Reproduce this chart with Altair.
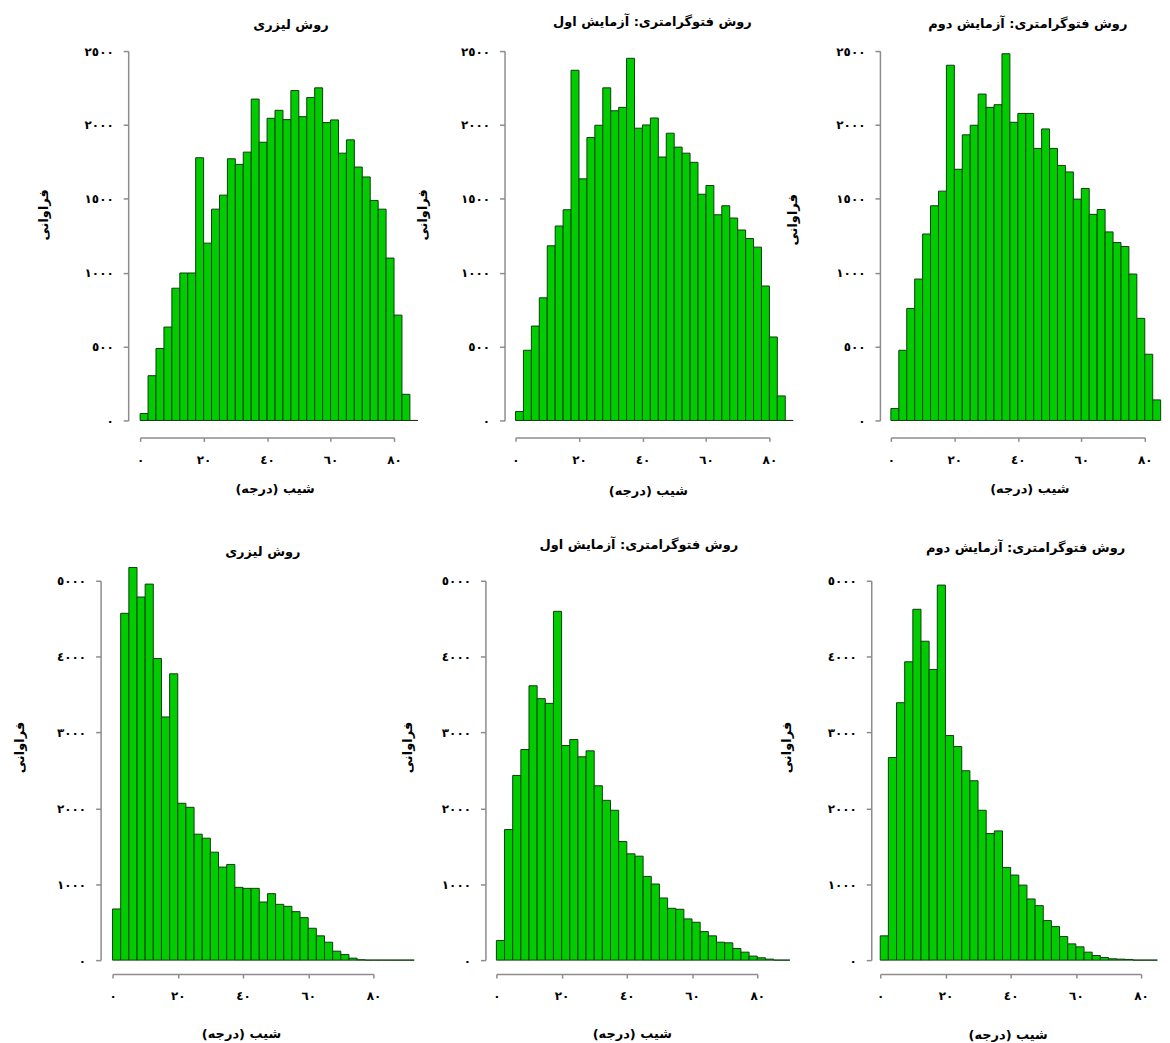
import altair as alt
import pandas as pd

# ---------------- data ----------------
BIN_WIDTH = 2.5

X_TICKS = [0, 20, 40, 60, 80]
X_TICK_LABELS = ["٠", "٢٠", "٤٠", "٦٠", "٨٠"]
Y_TICKS_TOP = [0, 500, 1000, 1500, 2000, 2500]
Y_TICK_LABELS_TOP = ["٠", "٥٠٠", "١٠٠٠", "١٥٠٠", "٢٠٠٠", "٢٥٠٠"]
Y_TICKS_BOTTOM = [0, 1000, 2000, 3000, 4000, 5000]
Y_TICK_LABELS_BOTTOM = ["٠", "١٠٠٠", "٢٠٠٠", "٣٠٠٠", "٤٠٠٠", "٥٠٠٠"]

TITLE_LASER = "روش لیزری"
TITLE_PHOTO_1 = "روش فتوگرامتری: آزمایش اول"
TITLE_PHOTO_2 = "روش فتوگرامتری: آزمایش دوم"
X_TITLE = "شیب (درجه)"
Y_TITLE = "فراوانی"

# counts per 2.5-degree bin, starting at 0 degrees
counts_top_laser = [47, 303, 487, 632, 895, 998, 998, 1778, 1200, 1430, 1525, 1771,
                    1733, 1816, 2175, 1883, 2045, 2099, 2036, 2233, 2056, 2186, 2251,
                    2016, 2034, 1809, 1899, 1715, 1648, 1489, 1430, 1099, 713, 177, 0]
counts_top_photo1 = [61, 475, 639, 830, 1182, 1316, 1426, 2370, 1635, 1915, 1998, 2251,
                     2096, 2119, 2451, 1978, 2000, 2047, 1783, 1944, 1850, 1809, 1747,
                     1531, 1590, 1392, 1453, 1370, 1289, 1231, 1173, 910, 565, 166, 0]
counts_top_photo2 = [81, 475, 758, 957, 1262, 1453, 1552, 2404, 1700, 1933, 1998, 2209,
                     2119, 2137, 2482, 2018, 2078, 2078, 1841, 1973, 1841, 1726, 1682,
                     1498, 1570, 1395, 1428, 1276, 1204, 1177, 991, 691, 448, 139]
counts_bottom_laser = [674, 4571, 5175, 4786, 4956, 3975, 3205, 3774, 2067, 2014, 1660,
                       1607, 1423, 1226, 1261, 959, 946, 946, 766, 876, 735, 709, 639,
                       560, 420, 320, 236, 118, 74, 26, 5, 0, 0, 0, 0, 0, 0]
counts_bottom_photo1 = [258, 1721, 2434, 2776, 3616, 3446, 3384, 4597, 2828, 2907, 2680,
                        2758, 2298, 2106, 1975, 1563, 1401, 1370, 1103, 1003, 819, 683,
                        670, 543, 499, 376, 320, 236, 228, 153, 105, 53, 31, 13, 0, 0]
counts_bottom_photo2 = [320, 2671, 3393, 3932, 4624, 4203, 3831, 4943, 2960, 2815, 2496,
                        2364, 1975, 1668, 1703, 1222, 1121, 989, 806, 718, 521, 442, 311,
                        214, 175, 105, 61, 35, 18, 13, 9, 0, 0, 0]

# ---------------- style ----------------
FONT = "DejaVu Sans"
FILL = "#00cc00"
EDGE = "#0d3d0d"
AXIS_GRAY = "#8c8c8c"


def label_expr(values, labels):
    expr = "".join(f"datum.value == {v} ? '{l}' : " for v, l in zip(values, labels))
    return expr + "''"


def panel(counts, title, yticks, ylabels, width, height, yoff, xoff,
          ytx, yty, xtx, xty, tdx, toff, xlabpad):
    df = pd.DataFrame({
        "start": [i * BIN_WIDTH for i in range(len(counts))],
        "end": [(i + 1) * BIN_WIDTH for i in range(len(counts))],
        "count": counts,
    })
    return alt.Chart(df, title=alt.TitleParams(
        title, font=FONT, fontSize=13, fontWeight="bold", color="black",
        anchor="middle", frame="group", dx=tdx, offset=toff, baseline="middle",
    )).mark_rect(fill=FILL, stroke=EDGE, strokeWidth=1, opacity=1).encode(
        x=alt.X("start:Q",
                scale=alt.Scale(domain=[X_TICKS[0], X_TICKS[-1]], nice=False, zero=False),
                axis=alt.Axis(values=X_TICKS, labelExpr=label_expr(X_TICKS, X_TICK_LABELS),
                              title=X_TITLE, offset=xoff, grid=False, tickSize=4,
                              domainColor=AXIS_GRAY, tickColor=AXIS_GRAY,
                              domainWidth=1.5, tickWidth=1.5,
                              labelFont=FONT, labelFontSize=12, labelFontWeight="bold",
                              labelColor="black", labelAngle=0, labelBaseline="middle",
                              labelPadding=xlabpad, labelFlush=False, labelOverlap=False,
                              titleFont=FONT, titleFontSize=13, titleFontWeight="bold",
                              titleColor="black", titleX=xtx, titleY=xty,
                              titleAlign="center", titleBaseline="middle")),
        x2="end:Q",
        y=alt.Y("count:Q",
                scale=alt.Scale(domain=[yticks[0], yticks[-1]], nice=False),
                axis=alt.Axis(values=yticks, labelExpr=label_expr(yticks, ylabels),
                              title=Y_TITLE, offset=yoff, grid=False, tickSize=5,
                              domainColor=AXIS_GRAY, tickColor=AXIS_GRAY,
                              domainWidth=1.5, tickWidth=1.5,
                              labelFont=FONT, labelFontSize=12, labelFontWeight="bold",
                              labelColor="black", labelPadding=10, labelOverlap=False,
                              titleFont=FONT, titleFontSize=13, titleFontWeight="bold",
                              titleColor="black", titleX=ytx, titleY=yty,
                              titleAngle=270, titleAlign="center",
                              titleBaseline="middle")),
        y2=alt.datum(0),
    ).properties(width=width, height=height)


TW, TH = 255, 371
BW, BH = 262, 381

tl = panel(counts_top_laser, TITLE_LASER, Y_TICKS_TOP, Y_TICK_LABELS_TOP, TW, TH,
           12, 17, -85, 164, 135, 51, 24, 7, 18)
tm = panel(counts_top_photo1, TITLE_PHOTO_1, Y_TICKS_TOP, Y_TICK_LABELS_TOP, TW, TH,
           11, 17, -82, 164, 133, 53, 10, 10, 18)
tr = panel(counts_top_photo2, TITLE_PHOTO_2, Y_TICKS_TOP, Y_TICK_LABELS_TOP, TW, TH,
           11, 17, -88, 169, 139, 51, 10, 8, 18)
bl = panel(counts_bottom_laser, TITLE_LASER, Y_TICKS_BOTTOM, Y_TICK_LABELS_BOTTOM, BW, BH,
           12, 14, -81, 167, 129, 60, 20, 2, 18)
bm = panel(counts_bottom_photo1, TITLE_PHOTO_1, Y_TICKS_BOTTOM, Y_TICK_LABELS_BOTTOM, BW, BH,
           11, 14, -78, 167, 136, 60, 12, 17, 18)
br = panel(counts_bottom_photo2, TITLE_PHOTO_2, Y_TICKS_BOTTOM, Y_TICK_LABELS_BOTTOM, BW, BH,
           9, 14, -85, 167, 128, 61, 15, 14, 18)

spacer = alt.Chart(pd.DataFrame({"v": [0]})).mark_point(opacity=0).encode(
    x=alt.X("v:Q", axis=None), y=alt.Y("v:Q", axis=None)
).properties(width=1, height=1)

top_row = alt.hconcat(
    spacer,
    alt.hconcat(tl, tm, tr, spacing=122, bounds="flush"),
    spacing=26.7, bounds="flush",
)
bottom_row = alt.hconcat(bl, bm, br, spacing=123.5, bounds="flush")

chart = alt.vconcat(top_row, bottom_row, spacing=40).properties(
    padding={"left": 5, "top": 5, "right": 0, "bottom": 0},
    background="white",
).configure_view(stroke="transparent")

chart.save("out.html", embed_options={"renderer": "svg", "actions": False})
